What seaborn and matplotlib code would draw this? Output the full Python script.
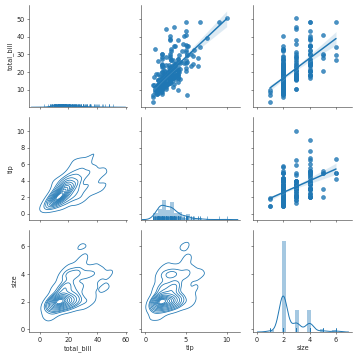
import numpy as np
import pandas as pd
import seaborn as sns
import matplotlib
matplotlib.use("Agg")
import matplotlib.pyplot as plt
from matplotlib.ticker import MultipleLocator

# restaurant tips data
total_bill = [16.99, 10.34, 21.01, 23.68, 24.59, 25.29, 8.77, 26.88, 15.04, 14.78,
              10.27, 35.26, 15.42, 18.43, 14.83, 21.58, 10.33, 16.29, 16.97, 20.65,
              17.92, 20.29, 15.77, 39.42, 19.82, 17.81, 13.37, 12.69, 21.70, 19.65,
              9.55, 18.35, 15.06, 20.69, 17.78, 24.06, 16.31, 16.93, 18.69, 31.27,
              16.04, 17.46, 13.94, 9.68, 30.40, 18.29, 22.23, 32.40, 28.55, 18.04,
              12.54, 10.29, 34.81, 9.94, 25.56, 19.49, 38.01, 26.41, 11.24, 48.27,
              20.29, 13.81, 11.02, 18.29, 17.59, 20.08, 16.45, 3.07, 20.23, 15.01,
              12.02, 17.07, 26.86, 25.28, 14.73, 10.51, 17.92, 27.20, 22.76, 17.29,
              19.44, 16.66, 10.07, 32.68, 15.98, 34.83, 13.03, 18.28, 24.71, 21.16,
              28.97, 22.49, 5.75, 16.32, 22.75, 40.17, 27.28, 12.03, 21.01, 12.46,
              11.35, 15.38, 44.30, 22.42, 20.92, 15.36, 20.49, 25.21, 18.24, 14.31,
              14.00, 7.25, 38.07, 23.95, 25.71, 17.31, 29.93, 10.65, 12.43, 24.08,
              11.69, 13.42, 14.26, 15.95, 12.48, 29.80, 8.52, 14.52, 11.38, 22.82,
              19.08, 20.27, 11.17, 12.26, 18.26, 8.51, 10.33, 14.15, 16.00, 13.16,
              17.47, 34.30, 41.19, 27.05, 16.43, 8.35, 18.64, 11.87, 9.78, 7.51,
              14.07, 13.13, 17.26, 24.55, 19.77, 29.85, 48.17, 25.00, 13.39, 16.49,
              21.50, 12.66, 16.21, 13.81, 17.51, 24.52, 20.76, 31.71, 10.59, 10.63,
              50.81, 15.81, 7.25, 31.85, 16.82, 32.90, 17.89, 14.48, 9.60, 34.63,
              34.65, 23.33, 45.35, 23.17, 40.55, 20.69, 20.90, 30.46, 18.15, 23.10,
              15.69, 19.81, 28.44, 15.48, 16.58, 7.56, 10.34, 43.11, 13.00, 13.51,
              18.71, 12.74, 13.00, 16.40, 20.53, 16.47, 26.59, 38.73, 24.27, 12.76,
              30.06, 25.89, 48.33, 13.27, 28.17, 12.90, 28.15, 11.59, 7.74, 30.14,
              12.16, 13.42, 8.58, 15.98, 13.42, 16.27, 10.09, 20.45, 13.28, 22.12,
              24.01, 15.69, 11.61, 10.77, 15.53, 10.07, 12.60, 32.83, 35.83, 29.03,
              27.18, 22.67, 17.82, 18.78]

tip = [1.01, 1.66, 3.50, 3.31, 3.61, 4.71, 2.00, 3.12, 1.96, 3.23,
       1.71, 5.00, 1.57, 3.00, 3.02, 3.92, 1.67, 3.71, 3.50, 3.35,
       4.08, 2.75, 2.23, 7.58, 3.18, 2.34, 2.00, 2.00, 4.30, 3.00,
       1.45, 2.50, 3.00, 2.45, 3.27, 3.60, 2.00, 3.07, 2.31, 5.00,
       2.24, 2.54, 3.06, 1.32, 5.60, 3.00, 5.00, 6.00, 2.05, 3.00,
       2.50, 2.60, 5.20, 1.56, 4.34, 3.51, 3.00, 1.50, 1.76, 6.73,
       3.21, 2.00, 1.98, 3.76, 2.64, 3.15, 2.47, 1.00, 2.01, 2.09,
       1.97, 3.00, 3.14, 5.00, 2.20, 1.25, 3.08, 4.00, 3.00, 2.71,
       3.00, 3.40, 1.83, 5.00, 2.03, 5.17, 2.00, 4.00, 5.85, 3.00,
       3.00, 3.50, 1.00, 4.30, 3.25, 4.73, 4.00, 1.50, 3.00, 1.50,
       2.50, 3.00, 2.50, 3.48, 4.08, 1.64, 4.06, 4.29, 3.76, 4.00,
       3.00, 1.00, 4.00, 2.55, 4.00, 3.50, 5.07, 1.50, 1.80, 2.92,
       2.31, 1.68, 2.50, 2.00, 2.52, 4.20, 1.48, 2.00, 2.00, 2.18,
       1.50, 2.83, 1.50, 2.00, 3.25, 1.25, 2.00, 2.00, 2.00, 2.75,
       3.50, 6.70, 5.00, 5.00, 2.30, 1.50, 1.36, 1.63, 1.73, 2.00,
       2.50, 2.00, 2.74, 2.00, 2.00, 5.14, 5.00, 3.75, 2.61, 2.00,
       3.50, 2.50, 2.00, 2.00, 3.00, 3.48, 2.24, 4.50, 1.61, 2.00,
       10.00, 3.16, 5.15, 3.18, 4.00, 3.11, 2.00, 2.00, 4.00, 3.55,
       3.68, 5.65, 3.50, 6.50, 3.00, 5.00, 3.50, 2.00, 3.50, 4.00,
       1.50, 4.19, 2.56, 2.02, 4.00, 1.44, 2.00, 5.00, 2.00, 2.00,
       4.00, 2.01, 2.00, 2.50, 4.00, 3.23, 3.41, 3.00, 2.03, 2.23,
       2.00, 5.16, 9.00, 2.50, 6.50, 1.10, 3.00, 1.50, 1.44, 3.09,
       2.20, 3.48, 1.92, 3.00, 1.58, 2.50, 2.00, 3.00, 2.72, 2.88,
       2.00, 3.00, 3.39, 1.47, 3.00, 1.25, 1.00, 1.17, 4.67, 5.92,
       2.00, 2.00, 1.75, 3.00]

size = [2, 3, 3, 2, 4, 4, 2, 4, 2, 2,
        2, 4, 2, 4, 2, 2, 3, 3, 3, 3,
        2, 2, 2, 4, 2, 4, 2, 2, 2, 2,
        2, 4, 2, 4, 2, 3, 3, 3, 3, 3,
        3, 2, 2, 2, 4, 2, 2, 4, 3, 2,
        2, 2, 4, 2, 4, 2, 4, 2, 2, 4,
        2, 2, 2, 4, 3, 3, 2, 1, 2, 2,
        2, 3, 2, 2, 2, 2, 2, 4, 2, 2,
        2, 2, 1, 2, 2, 4, 2, 2, 2, 2,
        2, 2, 2, 2, 2, 4, 2, 2, 2, 2,
        2, 2, 3, 2, 2, 2, 2, 2, 2, 2,
        2, 1, 3, 2, 3, 2, 4, 2, 2, 4,
        2, 2, 2, 2, 2, 6, 2, 2, 2, 3,
        2, 2, 2, 2, 2, 2, 2, 2, 2, 2,
        2, 6, 5, 6, 2, 2, 3, 2, 2, 2,
        2, 2, 3, 4, 4, 5, 6, 4, 2, 4,
        4, 2, 3, 2, 2, 3, 2, 4, 2, 2,
        3, 2, 2, 2, 2, 2, 2, 2, 2, 2,
        4, 2, 3, 4, 2, 5, 3, 5, 3, 3,
        2, 2, 2, 2, 2, 2, 2, 4, 2, 2,
        3, 2, 2, 2, 4, 3, 3, 4, 2, 2,
        3, 4, 4, 2, 3, 2, 5, 2, 2, 4,
        2, 2, 1, 3, 2, 2, 2, 4, 2, 2,
        4, 3, 2, 2, 2, 2, 2, 2, 3, 3,
        2, 2, 2, 2]

tips = pd.DataFrame({"total_bill": total_bill, "tip": tip, "size": size})

sns.set_style("ticks")
plt.rcParams["font.family"] = ["DejaVu Sans"]


def diag_dist(x, color=None, **kws):
    # old distplot look: density hist + kde + rug
    ax = plt.gca()
    color = color or "C0"
    q75, q25 = np.percentile(x, [75, 25])
    h = 2 * (q75 - q25) / len(x) ** (1 / 3)
    bins = min(int(np.ceil((x.max() - x.min()) / h)), 50)
    sns.histplot(x=x, bins=bins, stat="density", color=color, alpha=0.4,
                 linewidth=0, ax=ax)
    sns.kdeplot(x=x, color=color, cut=3, linewidth=1.5, ax=ax)
    sns.rugplot(x=x, color=color, height=0.035, linewidth=0.8, ax=ax)


g = sns.PairGrid(tips, height=2.5)
g.map_upper(sns.regplot, color="C0")
g.map_lower(sns.kdeplot, color="C0", bw_adjust=0.95, cut=3, linewidths=1.2,
            levels=[0.06, 0.2, 0.31, 0.41, 0.5, 0.58, 0.66, 0.73, 0.8, 0.86, 0.91, 0.95])
g.map_diag(diag_dist)

xlims = {"total_bill": (-7.4, 61), "tip": (-0.5, 11.6), "size": (-0.25, 7.2)}
ylims = {"total_bill": (0.1, 58), "tip": (-0.7, 11.7), "size": (-0.2, 7.2)}
steps = {"total_bill": 10, "tip": 2, "size": 2}
xsteps = {"total_bill": 20, "tip": 5, "size": 2}
for i, yv in enumerate(g.y_vars):
    for j, xv in enumerate(g.x_vars):
        ax = g.axes[i, j]
        ax.set_xlim(*xlims[xv])
        ax.xaxis.set_major_locator(MultipleLocator(xsteps[xv]))
        ax.set_ylim(*ylims[yv])
        ax.yaxis.set_major_locator(MultipleLocator(steps[yv]))

g.figure.set_size_inches(354 / 47, 357 / 47)
g.figure.subplots_adjust(left=0.082, right=0.994, bottom=0.070, top=0.986,
                         wspace=0.14, hspace=0.1)
g.figure.savefig("out.png", dpi=47)
